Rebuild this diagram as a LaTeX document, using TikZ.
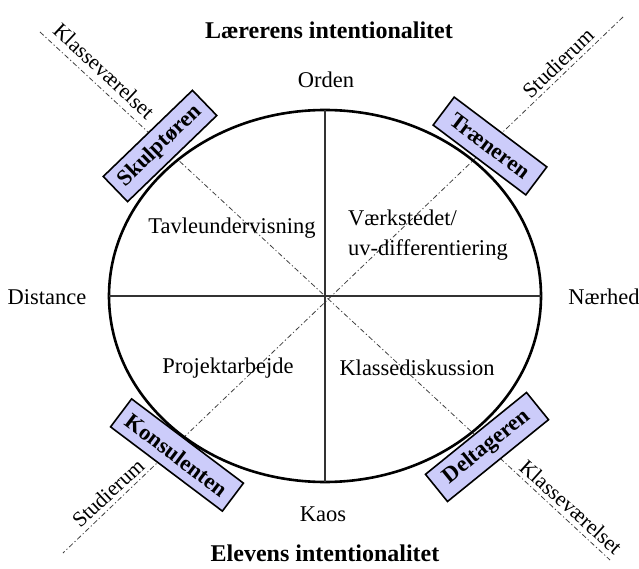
\documentclass[tikz,border=0pt]{standalone}
\usepackage{fontspec}
\setmainfont{Liberation Serif}
\usetikzlibrary{shapes.geometric}
\definecolor{boxfill}{RGB}{204,204,250}
\begin{document}
\begin{tikzpicture}[x=1pt,y=-1pt,
  lbl/.style={font=\fontsize{22.5}{30}\selectfont, inner sep=0pt},
  side/.style={font=\fontsize{21.5}{25}\selectfont, inner sep=0pt},
  ttl/.style={font=\fontsize{24}{28}\selectfont\bfseries, inner sep=0pt},
  role/.style={draw=black, line width=1.6pt, fill=boxfill, font=\fontsize{22.5}{26}\selectfont\bfseries,
               minimum height=35pt, inner xsep=6pt, inner ysep=0pt},
  diag/.style={draw=black!75, line width=0.8pt, dash pattern=on 5pt off 2.5pt on 1.2pt off 2.5pt},
  axis/.style={draw=black!80, line width=1.1pt},
  oval/.style={draw=black, line width=2.6pt, ellipse, outer sep=0pt, inner sep=0pt}
]
\useasboundingbox (0,0) rectangle (639,569);
\coordinate (C) at (325,296);
\coordinate (d1a) at (40,32);
\coordinate (d1b) at (610,560);
\coordinate (d2a) at (623,17);
\coordinate (d2b) at (63,553);
\draw[diag] (d1a) -- (d1b);
\draw[diag] (d2a) -- (d2b);
\node[oval, minimum width=432pt, minimum height=372pt] (E) at (C) {};
\draw[axis] (E.west) -- (E.east);
\draw[axis] (E.north) -- (E.south);

\node[role, rotate=44, minimum width=124pt] (sk) at (160,146) {Skulptøren};
\node[role, rotate=-37, minimum width=116pt] (tr) at (490,146) {Træneren};
\node[role, rotate=-37, minimum width=140pt] (ko) at (177,455) {Konsulenten};
\node[role, rotate=39, minimum width=130pt] (de) at (487,447) {Deltageren};

\node[side, rotate=-43] (kv1) at (104,71) {Klasseværelset};
\node[side, rotate=44] (st1) at (558,63) {Studierum};
\node[side, rotate=43] (st2) at (108,493) {Studierum};
\node[side, rotate=-42] (kv2) at (571,507) {Klasseværelset};

\node[ttl] (lt) at (329,30) {Lærerens intentionalitet};
\node[ttl] (et) at (325,553) {Elevens intentionalitet};
\node[lbl] (or) at (326,80) {Orden};
\node[lbl] (ka) at (323,514) {Kaos};
\node[lbl] (di) at (47,297) {Distance};
\node[lbl] (nh) at (604,297) {Nærhed};

\node[lbl] (tv) at (232,228) {Tavleundervisning};
\node[lbl, anchor=west, align=left] (vk) at (348,235) {Værkstedet/\\uv-differentiering};
\node[lbl] (pa) at (228,368) {Projektarbejde};
\node[lbl] (kd) at (417,368) {Klassediskussion};
\end{tikzpicture}
\end{document}
